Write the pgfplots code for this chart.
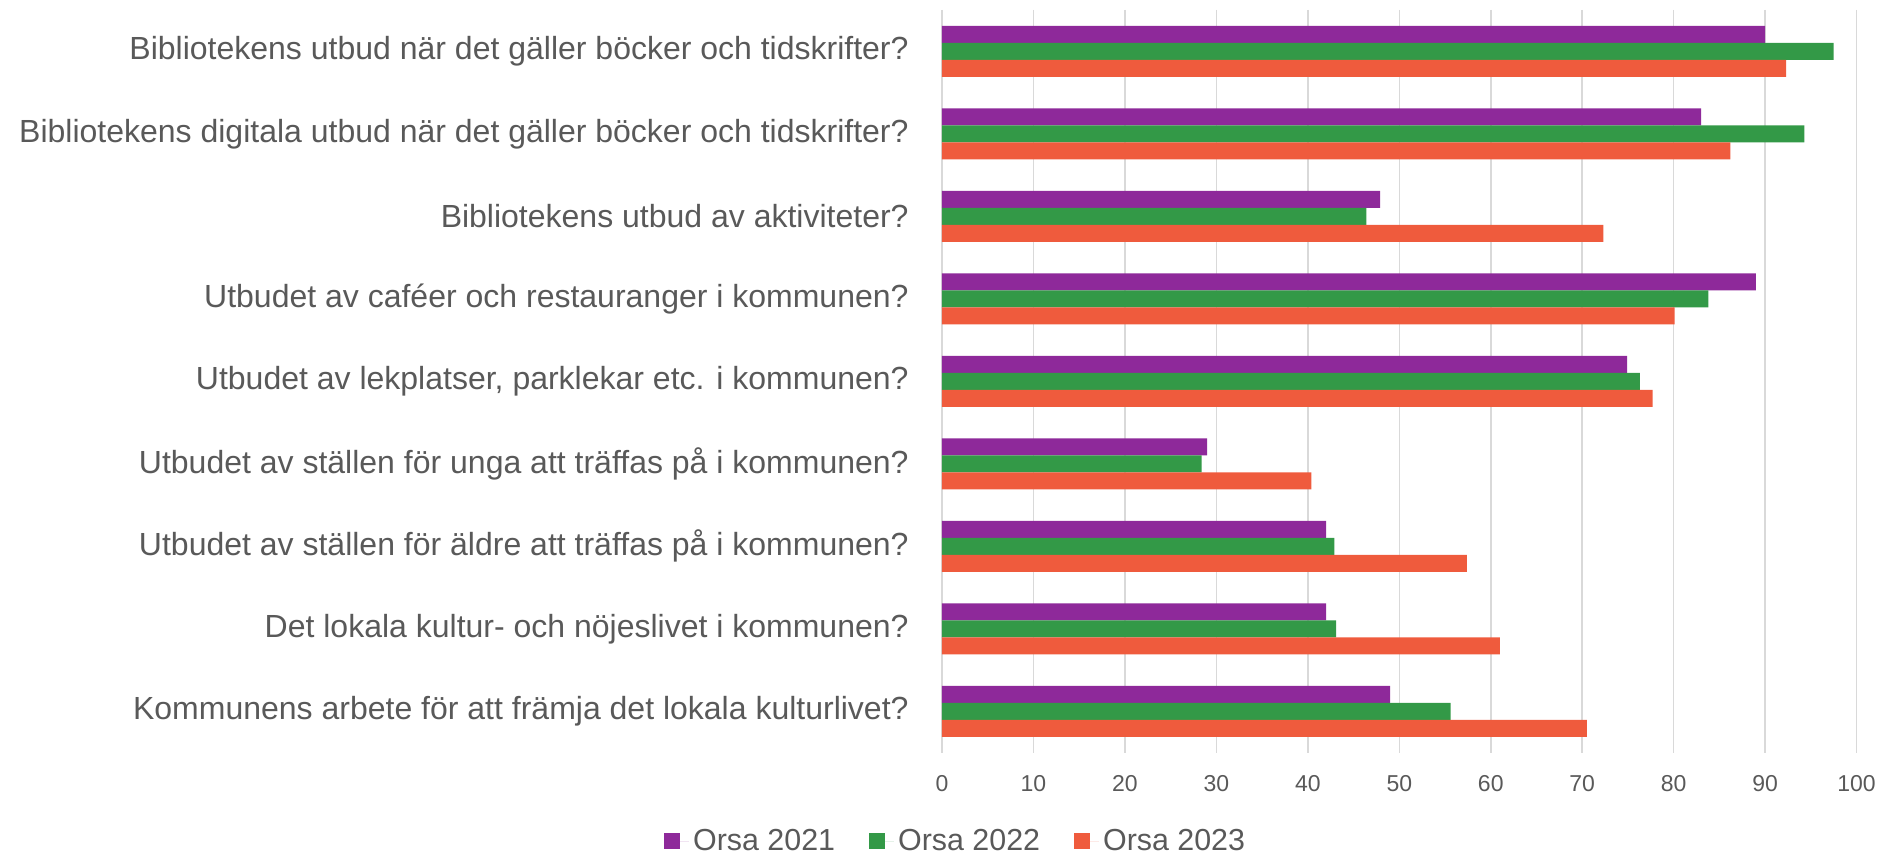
\documentclass[border=0pt]{standalone}
\usepackage{fontspec}
\setmainfont{Liberation Sans}
\usepackage{pgfplots}
\usepackage{pgfplotstable}
\pgfplotsset{compat=1.18}
\definecolor{c1}{HTML}{8E299A}
\definecolor{c2}{HTML}{339947}
\definecolor{c3}{HTML}{EF5B3D}
\definecolor{txt}{HTML}{595959}
\definecolor{grd}{HTML}{D9D9D9}
\pgfplotstableread{
idx v21 v22 v23
0 90.0 97.5 92.3
1 83.0 94.3 86.2
2 47.9 46.4 72.3
3 89.0 83.8 80.1
4 74.9 76.3 77.7
5 29.0 28.4 40.4
6 42.0 42.9 57.4
7 42.0 43.1 61.0
8 49.0 55.6 70.5
}\datatable
\begin{document}
\begin{tikzpicture}
\begin{axis}[name=ax, scale only axis, width=457.3pt, height=371.35pt,
  xbar, bar width=0.206,
  xmin=0, xmax=100, ymin=-0.5, ymax=8.5, y dir=reverse,
  ytick={0,...,8},
  yticklabels={Bibliotekens utbud när det gäller böcker och tidskrifter?,
    Bibliotekens digitala utbud när det gäller böcker och tidskrifter?,
    Bibliotekens utbud av aktiviteter?,
    Utbudet av caféer och restauranger i kommunen?,
    {Utbudet av lekplatser, parklekar etc. i kommunen?},
    Utbudet av ställen för unga att träffas på i kommunen?,
    Utbudet av ställen för äldre att träffas på i kommunen?,
    Det lokala kultur- och nöjeslivet i kommunen?,
    Kommunens arbete för att främja det lokala kulturlivet?},
  xtick={0,10,...,100},
  xmajorgrids, grid style={grd, line width=0.75pt},
  axis line style={draw=none}, major tick length=0pt,
  /pgf/number format/assume math mode=true,
  xticklabel style={font=\fontsize{11.5}{13}\selectfont, text=txt, inner sep=0pt, anchor=north, yshift=-11.3pt},
  yticklabel style={font=\fontsize{16.0}{18}\selectfont, text=txt, inner sep=0pt, anchor=east, xshift=-16.5pt},
  legend style={at={(0.016,-0.119)}, anchor=center, draw=none, fill=none,
    legend columns=3, font=\fontsize{15.2}{18}\selectfont, text=txt,
    /tikz/every even column/.append style={column sep=15pt}},
  legend image code/.code={\fill[#1] (0pt,-4pt) rectangle (8pt,4pt); \path (0pt,0pt) rectangle (12.5pt,0pt);},
  clip=false,
]
\addplot[fill=c1, draw=none, bar shift=-0.206] table[x=v21, y=idx] {\datatable};
\addplot[fill=c2, draw=none, bar shift=0] table[x=v22, y=idx] {\datatable};
\addplot[fill=c3, draw=none, bar shift=0.206] table[x=v23, y=idx] {\datatable};
\legend{Orsa 2021, Orsa 2022, Orsa 2023}
\end{axis}
\pgfresetboundingbox
\path[use as bounding box] ([xshift=-471pt,yshift=-51.15pt]ax.south west) rectangle ([xshift=13.2pt,yshift=5pt]ax.north east);
\end{tikzpicture}
\end{document}
